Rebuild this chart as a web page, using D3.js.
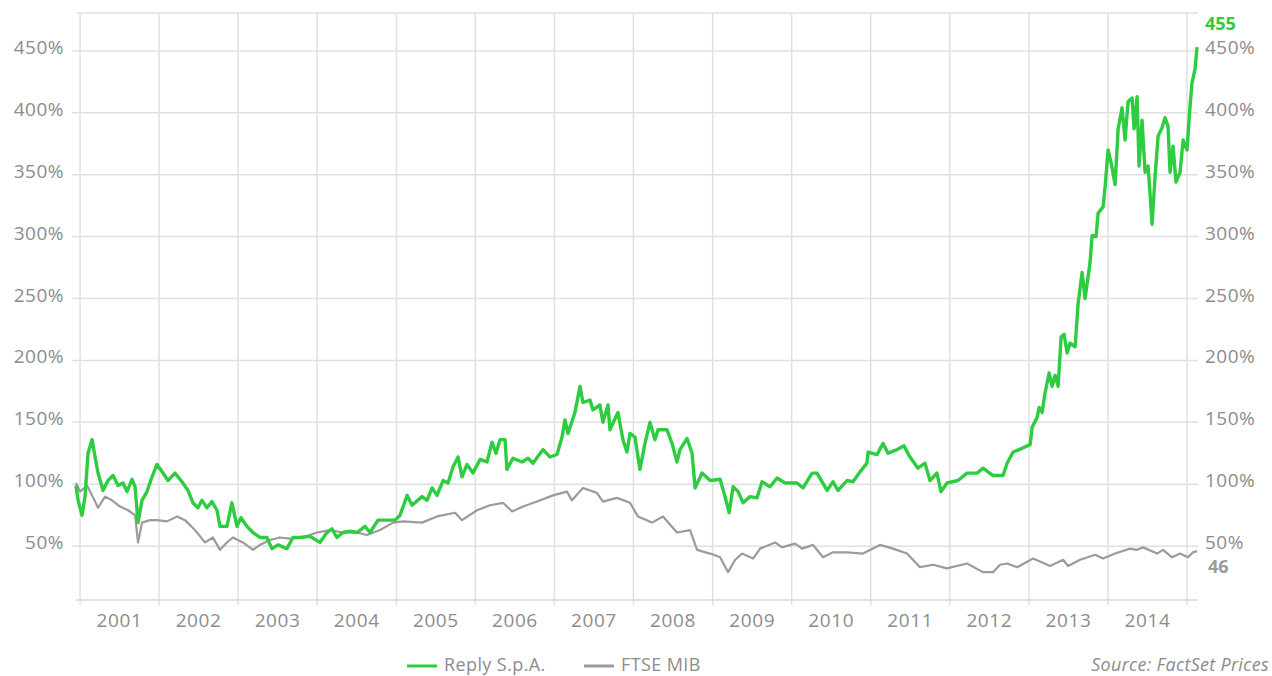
<!DOCTYPE html>
<html>
<head>
<meta charset="utf-8">
<script src="https://cdn.jsdelivr.net/npm/d3@7"></script>
<style>
  body { margin: 0; background: #fff; }
  svg { display: block; font-family: "Open Sans", Lato, sans-serif; }
</style>
</head>
<body>
<div class="chart"></div>
<script>
// dates as decimal years, values in % of start
const replyDates = [2000.949, 2000.975, 2001.025, 2001.063, 2001.101, 2001.152, 2001.190, 2001.228, 2001.291, 2001.354,
  2001.417, 2001.481, 2001.544, 2001.594, 2001.658, 2001.696, 2001.734, 2001.784, 2001.847, 2001.911,
  2001.974, 2002.050, 2002.113, 2002.201, 2002.290, 2002.366, 2002.429, 2002.492, 2002.543, 2002.606,
  2002.669, 2002.733, 2002.771, 2002.859, 2002.922, 2002.986, 2003.036, 2003.112, 2003.188, 2003.276,
  2003.365, 2003.428, 2003.504, 2003.618, 2003.694, 2003.782, 2003.909, 2004.035, 2004.124, 2004.187,
  2004.250, 2004.326, 2004.415, 2004.503, 2004.604, 2004.668, 2004.769, 2004.883, 2004.984, 2005.047,
  2005.136, 2005.199, 2005.325, 2005.389, 2005.452, 2005.515, 2005.591, 2005.654, 2005.717, 2005.781,
  2005.831, 2005.894, 2005.970, 2006.059, 2006.147, 2006.211, 2006.261, 2006.312, 2006.375, 2006.400,
  2006.476, 2006.590, 2006.666, 2006.729, 2006.856, 2006.944, 2007.033, 2007.096, 2007.134, 2007.172,
  2007.260, 2007.324, 2007.361, 2007.450, 2007.488, 2007.576, 2007.614, 2007.678, 2007.703, 2007.804,
  2007.867, 2007.918, 2007.956, 2008.019, 2008.082, 2008.146, 2008.209, 2008.272, 2008.310, 2008.424,
  2008.487, 2008.550, 2008.588, 2008.677, 2008.740, 2008.778, 2008.866, 2008.968, 2009.094, 2009.157,
  2009.208, 2009.259, 2009.322, 2009.385, 2009.473, 2009.562, 2009.625, 2009.726, 2009.815, 2009.916,
  2010.068, 2010.144, 2010.258, 2010.321, 2010.447, 2010.523, 2010.586, 2010.700, 2010.776, 2010.865,
  2010.953, 2010.966, 2011.080, 2011.156, 2011.219, 2011.333, 2011.421, 2011.497, 2011.598, 2011.687,
  2011.750, 2011.838, 2011.889, 2011.965, 2012.104, 2012.218, 2012.344, 2012.420, 2012.547, 2012.673,
  2012.724, 2012.800, 2012.913, 2013.015, 2013.040, 2013.103, 2013.129, 2013.166, 2013.204, 2013.255,
  2013.293, 2013.331, 2013.369, 2013.407, 2013.445, 2013.483, 2013.521, 2013.584, 2013.622, 2013.672,
  2013.710, 2013.773, 2013.799, 2013.849, 2013.875, 2013.938, 2013.963, 2014.001, 2014.039, 2014.090,
  2014.128, 2014.178, 2014.216, 2014.254, 2014.305, 2014.330, 2014.368, 2014.393, 2014.431, 2014.469,
  2014.507, 2014.532, 2014.558, 2014.596, 2014.634, 2014.684, 2014.722, 2014.760, 2014.785, 2014.823,
  2014.861, 2014.912, 2014.950, 2015.000, 2015.038, 2015.063, 2015.101, 2015.127];
const replyValues = [99, 87, 75, 90, 125, 136, 122, 109, 95, 103,
  107, 99, 101, 94, 104, 98, 69, 87, 94, 106,
  116, 109, 103, 109, 102, 95, 85, 81, 87, 81,
  86, 79, 66, 66, 85, 66, 73, 66, 61, 57,
  57, 48, 51, 48, 57, 57, 58, 53, 61, 64,
  57, 61, 62, 61, 66, 61, 71, 71, 71, 75,
  91, 83, 90, 87, 97, 91, 103, 101, 114, 122,
  106, 116, 109, 120, 118, 134, 125, 136, 136, 112,
  121, 118, 121, 117, 128, 122, 124, 138, 152, 141,
  158, 179, 166, 168, 160, 164, 150, 164, 144, 158,
  136, 126, 141, 138, 112, 133, 150, 136, 144, 144,
  133, 118, 128, 137, 125, 97, 109, 103, 104, 90,
  77, 98, 94, 85, 90, 89, 102, 98, 105, 101,
  101, 97, 109, 109, 95, 102, 95, 103, 102, 110,
  117, 126, 124, 133, 125, 128, 131, 122, 113, 117,
  103, 109, 94, 101, 103, 109, 109, 113, 107, 107,
  117, 126, 129, 132, 146, 154, 162, 158, 174, 190,
  179, 188, 179, 219, 221, 206, 214, 211, 246, 271,
  250, 279, 301, 300, 319, 324, 340, 370, 360, 342,
  387, 404, 378, 409, 412, 387, 413, 357, 394, 352,
  357, 335, 310, 349, 381, 388, 396, 389, 352, 373,
  344, 352, 378, 370, 405, 424, 435, 453];

const ftseDates = [2000.949, 2001.000, 2001.089, 2001.152, 2001.228, 2001.316, 2001.405, 2001.506, 2001.607, 2001.696,
  2001.734, 2001.784, 2001.885, 2001.974, 2002.100, 2002.227, 2002.328, 2002.454, 2002.581, 2002.682,
  2002.771, 2002.859, 2002.935, 2003.061, 2003.188, 2003.276, 2003.403, 2003.529, 2003.656, 2003.820,
  2003.997, 2004.162, 2004.326, 2004.503, 2004.630, 2004.794, 2004.959, 2005.085, 2005.325, 2005.515,
  2005.743, 2005.831, 2006.021, 2006.185, 2006.350, 2006.464, 2006.603, 2006.780, 2006.982, 2007.159,
  2007.222, 2007.361, 2007.538, 2007.614, 2007.791, 2007.956, 2008.057, 2008.234, 2008.373, 2008.550,
  2008.715, 2008.803, 2008.968, 2009.094, 2009.195, 2009.284, 2009.372, 2009.511, 2009.600, 2009.790,
  2009.878, 2010.043, 2010.131, 2010.270, 2010.397, 2010.523, 2010.700, 2010.903, 2011.118, 2011.282,
  2011.459, 2011.624, 2011.788, 2011.965, 2012.218, 2012.420, 2012.547, 2012.635, 2012.724, 2012.850,
  2013.053, 2013.268, 2013.432, 2013.495, 2013.647, 2013.837, 2013.938, 2014.090, 2014.280, 2014.368,
  2014.444, 2014.621, 2014.697, 2014.810, 2014.912, 2015.013, 2015.076, 2015.127];
const ftseValues = [101, 94, 99, 91, 81, 90, 87, 82, 79, 75,
  53, 69, 71, 71, 70, 74, 71, 63, 53, 57,
  47, 53, 57, 53, 47, 51, 55, 57, 56, 57,
  61, 63, 61, 61, 59, 63, 69, 70, 69, 74,
  77, 71, 79, 83, 85, 78, 82, 86, 91, 94,
  87, 97, 93, 86, 89, 85, 74, 69, 74, 61,
  63, 47, 44, 41, 29, 39, 44, 40, 48, 53,
  49, 52, 48, 51, 41, 45, 45, 44, 51, 48,
  44, 33, 35, 32, 36, 29, 29, 35, 36, 33,
  40, 34, 39, 34, 39, 43, 40, 44, 48, 47,
  49, 44, 47, 41, 44, 41, 45, 46];

const yearTicks = d3.range(2001, 2016);
const yearLabels = d3.range(2001, 2015);
const percentTicks = [50, 100, 150, 200, 250, 300, 350, 400, 450];
const seriesNames = ["Reply S.p.A.", "FTSE MIB"];
const lastLabels = ["455", "46"];

const green = "#2ecc40";
const grey = "#9b9b9b";
const textGrey = "#8c8c8c";

function toDate(v) {
  const yr = Math.floor(v);
  const start = Date.UTC(yr, 0, 1), end = Date.UTC(yr + 1, 0, 1);
  return new Date(start + (v - yr) * (end - start));
}

const reply = replyDates.map((d, i) => ({ date: toDate(d), value: replyValues[i] }));
const ftse = ftseDates.map((d, i) => ({ date: toDate(d), value: ftseValues[i] }));

const width = 1272, height = 676;
const plotLeft = 76, plotRight = 1198, plotTop = 13, plotBottom = 600;

const svg = d3.select(".chart").append("svg")
  .attr("width", width)
  .attr("height", height);

const x = d3.scaleUtc()
  .domain([toDate(2000.949), toDate(2015.139)])
  .range([plotLeft, plotRight]);

const y = d3.scaleLinear()
  .domain([6.5, 480.6])
  .range([plotBottom, plotTop]);

// grid
svg.append("line")
  .attr("x1", plotLeft).attr("x2", plotRight)
  .attr("y1", plotTop).attr("y2", plotTop)
  .attr("stroke", "#e0e0e0").attr("stroke-width", 1.5);

svg.selectAll(".hgrid").data(percentTicks).enter().append("line")
  .attr("x1", plotLeft - 4).attr("x2", plotRight)
  .attr("y1", d => y(d)).attr("y2", d => y(d))
  .attr("stroke", "#e0e0e0").attr("stroke-width", 1.5);

svg.selectAll(".vgrid").data(yearTicks).enter().append("line")
  .attr("x1", d => x(toDate(d))).attr("x2", d => x(toDate(d)))
  .attr("y1", plotTop).attr("y2", plotBottom + 5)
  .attr("stroke", "#e0e0e0").attr("stroke-width", 1.5);

svg.append("line")
  .attr("x1", plotLeft).attr("x2", plotRight)
  .attr("y1", plotBottom).attr("y2", plotBottom)
  .attr("stroke", "#d8d8d8").attr("stroke-width", 1.5);

// axis labels
svg.selectAll(".ylabL").data(percentTicks).enter().append("text")
  .attr("x", 64).attr("y", d => y(d) + 3)
  .attr("text-anchor", "end")
  .attr("font-size", 19).attr("letter-spacing", 0.5).attr("fill", textGrey)
  .text(d => d + "%");

svg.selectAll(".ylabR").data(percentTicks).enter().append("text")
  .attr("x", 1205).attr("y", d => y(d) + 3)
  .attr("font-size", 19).attr("letter-spacing", 0.5).attr("fill", textGrey)
  .text(d => d + "%");

svg.selectAll(".xlab").data(yearLabels).enter().append("text")
  .attr("x", d => x(toDate(d + 0.5)))
  .attr("y", 627)
  .attr("text-anchor", "middle")
  .attr("font-size", 19).attr("letter-spacing", 0.6).attr("fill", textGrey)
  .text(d => d);

// lines
const line = d3.line()
  .x(d => x(d.date))
  .y(d => y(d.value))
  .curve(d3.curveLinear);

svg.append("path").datum(ftse)
  .attr("d", line)
  .attr("fill", "none")
  .attr("stroke", grey).attr("stroke-width", 2.2)
  .attr("stroke-linejoin", "round");

svg.append("path").datum(reply)
  .attr("d", line)
  .attr("fill", "none")
  .attr("stroke", green).attr("stroke-width", 3.4)
  .attr("stroke-linejoin", "round");

// end labels
svg.append("text")
  .attr("x", 1205).attr("y", 30)
  .attr("font-size", 18).attr("font-weight", "bold").attr("fill", green)
  .text(lastLabels[0]);

svg.append("text")
  .attr("x", 1208).attr("y", 573)
  .attr("font-size", 18).attr("font-weight", "bold").attr("fill", grey)
  .text(lastLabels[1]);

// legend
const legend = [
  { name: seriesNames[0], color: green, x: 407 },
  { name: seriesNames[1], color: grey, x: 584 }
];
legend.forEach(l => {
  svg.append("line")
    .attr("x1", l.x).attr("x2", l.x + 30)
    .attr("y1", 666).attr("y2", 666)
    .attr("stroke", l.color).attr("stroke-width", 3);
  svg.append("text")
    .attr("x", l.x + 37).attr("y", 671)
    .attr("font-size", 18).attr("letter-spacing", 0.4).attr("fill", textGrey)
    .text(l.name);
});

svg.append("text")
  .attr("x", 1269).attr("y", 671)
  .attr("text-anchor", "end")
  .attr("font-size", 18).attr("font-style", "italic").attr("letter-spacing", 0.3).attr("fill", textGrey)
  .text("Source: FactSet Prices");
</script>
</body>
</html>
